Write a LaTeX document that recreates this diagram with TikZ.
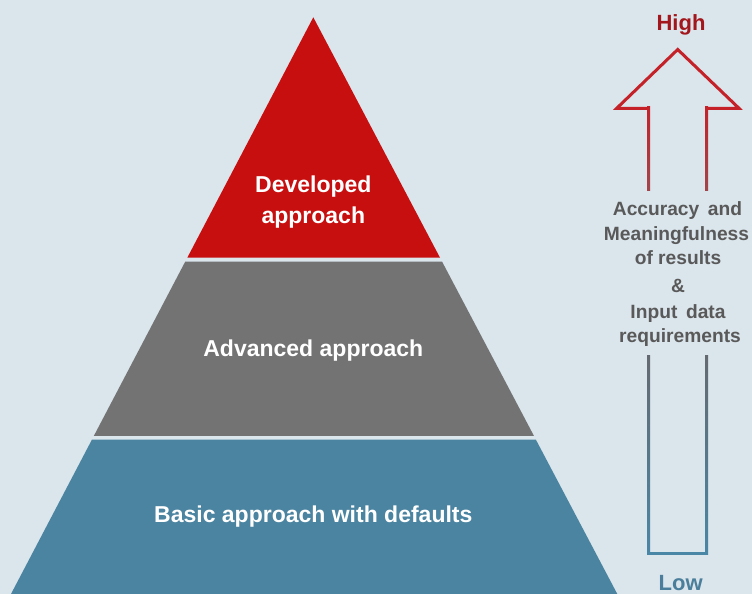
\documentclass[tikz,border=0pt]{standalone}
\usepackage{fontspec}
\setmainfont{Liberation Sans}
\definecolor{bg}{HTML}{DAE5EC}
\definecolor{pyrred}{HTML}{C80F0F}
\definecolor{pyrgray}{HTML}{737373}
\definecolor{pyrblue}{HTML}{4B84A0}
\definecolor{hightxt}{HTML}{A3161B}
\definecolor{lowtxt}{HTML}{4A7E9A}
\definecolor{sidegray}{HTML}{595959}
\definecolor{arrred}{HTML}{C42228}
\definecolor{arrredgray}{HTML}{A2454A}
\definecolor{arrgray}{HTML}{656A70}
\definecolor{arrblue}{HTML}{4A86A5}
\begin{document}
\begin{tikzpicture}[x=1pt,y=-1pt,
  pyrtext/.style={text=white, font=\fontsize{23}{31}\selectfont\bfseries, align=center, inner sep=0pt},
  sidetext/.style={text=sidegray, font=\fontsize{19.2}{24}\selectfont\bfseries, anchor=base, inner sep=0pt},
  endtext/.style={font=\fontsize{22}{26}\selectfont\bfseries, anchor=base, inner sep=0pt},
  arrline/.style={line width=3pt, line join=miter}]
\fill[bg] (0,0) rectangle (752,594);
\useasboundingbox (0,0) rectangle (752,594);
% pyramid
\fill[pyrred] (313.3,17.3) -- (440.0,257.7) -- (187.3,257.7) -- cycle;
\fill[pyrgray] (185.3,261.5) -- (442.0,261.5) -- (533.9,435.8) -- (93.9,435.8) -- cycle;
\fill[pyrblue] (92.0,439.5) -- (535.8,439.5) -- (617.3,594) -- (11,594) -- cycle;
\node[pyrtext] (dev) at (313.3,202.5) {Developed\\approach};
\node[pyrtext, anchor=base] (adv) at (313.3,356.8) {Advanced approach};
\node[pyrtext, anchor=base] (bas) at (313.3,522.5) {Basic approach with defaults};
% arrow
\coordinate (tip) at (677.7,49.5);
\coordinate (hl) at (616.7,108.3);
\coordinate (hr) at (739.0,108.3);
\coordinate (sl) at (648.7,108.3);
\coordinate (sr) at (706.7,108.3);
\draw[arrline, arrred] (sl) -- (hl) -- (tip) -- (hr) -- (sr);
\shade[top color=arrred, bottom color=arrredgray] (647.2,106.8) rectangle (650.2,190);
\shade[top color=arrred, bottom color=arrredgray] (705.2,106.8) rectangle (708.2,190);
\shade[top color=arrgray, bottom color=arrblue] (647.2,355) rectangle (650.2,554.5);
\shade[top color=arrgray, bottom color=arrblue] (705.2,355) rectangle (708.2,554.5);
\coordinate (bl) at (647.2,553);
\coordinate (br) at (708.2,553);
\draw[line width=3pt, arrblue] (bl) -- (br);
% labels
\node[endtext, text=hightxt] (high) at (681,31) {High};
\node[endtext, text=lowtxt] (low) at (680.7,590.3) {Low};
\node[sidetext] (l1) at (677.5,215.7) {Accuracy\hspace{0.45em}and};
\node[sidetext] (l2) at (676.5,240) {Meaningfulness};
\node[sidetext] (l3) at (678,264) {of results};
\node[sidetext] (l4) at (678,292.3) {\&};
\node[sidetext] (l5) at (678,318.3) {Input\hspace{0.45em}data};
\node[sidetext] (l6) at (680,342.3) {requirements};
\end{tikzpicture}
\end{document}
